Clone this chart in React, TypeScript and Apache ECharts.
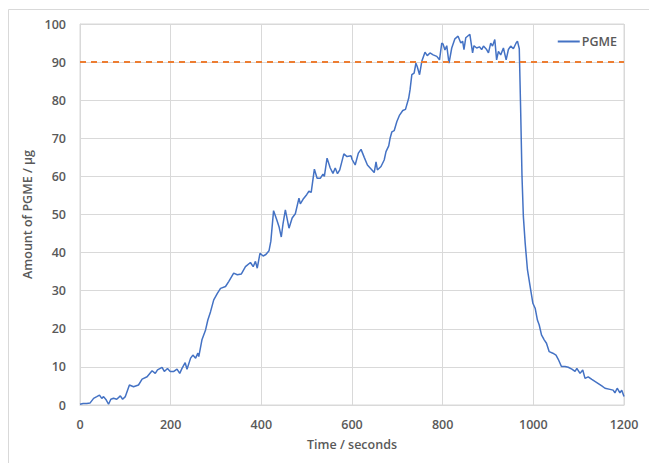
import React, { useEffect, useRef } from "react";
import * as echarts from "echarts";

const times = [0,7,15,22,30,37,43,48,52,58,63,68,74,81,89,94,100,109,118,129,137,148,159,166,171,181,186,193,199,207,214,220,225,232,236,244,249,255,260,262,269,277,282,288,295,303,310,321,328,339,347,356,365,376,382,387,391,397,404,410,417,421,427,434,439,444,448,453,461,468,475,483,486,492,500,505,510,517,523,530,536,539,545,552,558,563,568,573,582,589,598,600,607,614,620,627,634,644,649,653,656,664,671,675,681,684,688,693,699,705,712,718,725,728,732,737,741,744,749,754,761,766,772,779,787,793,798,801,805,809,814,820,827,834,840,844,847,851,860,866,869,875,881,886,890,897,901,906,910,915,919,923,928,934,940,945,950,956,962,965,969,972,975,978,982,987,993,999,1004,1009,1013,1018,1024,1029,1035,1043,1050,1055,1062,1070,1077,1085,1092,1096,1103,1109,1114,1121,1129,1140,1151,1158,1169,1176,1180,1185,1191,1195,1200];
const pgme = [0.2,0.4,0.4,0.5,1.75,2.2,2.6,1.75,2.2,1.3,0.2,1.5,1.75,1.5,2.4,1.5,2.2,5.25,4.8,5.25,6.8,7.4,9.0,8.3,9.2,9.9,8.8,9.6,8.8,8.8,9.4,8.3,9.6,11.1,9.4,12.3,13.1,12.3,13.6,12.7,17.1,19.7,22.3,24.5,27.6,29.3,30.6,31.1,32.4,34.6,34.2,34.4,36.3,37.4,36.3,37.7,35.9,39.8,39.1,39.5,40.5,43,51,48.6,46.8,44.1,47.7,51.2,46.4,49.1,50.2,54.3,52.8,54,55.2,56.1,55.8,61.9,59.5,59.5,60.6,60,64.8,62.2,60.8,62.2,60.7,61.7,65.9,65.2,65.4,64.5,63,66.1,67.1,65,63,61.7,61,63.8,61.7,62.6,64.3,66.5,68,70,71.7,72,74.4,76.1,77.3,77.6,80.5,82.7,86.7,87.1,89.7,88.8,86.7,90.2,92.6,91.7,92.4,91.9,91.5,90.6,95,94.7,93.2,94.3,89.7,93.7,96.1,96.8,95,95.5,93.3,96.4,97.3,92.4,94.3,93.7,94,93.3,94.2,93.3,92.4,95,94.2,95.9,90.6,92.8,91.9,93.7,90.6,93.3,94.2,93.5,95,95.5,93.5,77.6,60,49.5,42.5,35.5,31.1,26.7,25.4,22.3,21,18.4,17.1,16.2,14,13.6,13.1,12,10.1,10.1,9.9,9.4,8.8,9.6,8.3,9.2,7,7.4,6.7,5.9,5,4.4,4.1,3.9,3.2,4.4,3.2,3.9,2.2];
const targetLevel = 90;
const seriesName = "PGME";
const xTitle = "Time / seconds";
const yTitle = "Amount of PGME / µg";

export default function App() {
  const ref = useRef<HTMLDivElement>(null);
  useEffect(() => {
    if (!ref.current) return;
    const chart = echarts.init(ref.current, null, { renderer: "svg" });
    const font = "'Open Sans', sans-serif";
    const labelColor = "#595959";
    const gridColor = "#d9d9d9";
    chart.setOption({
      animation: false,
      backgroundColor: "#ffffff",
      graphic: [
        {
          type: "rect",
          shape: { x: 8.5, y: 9.5, width: 700, height: 500 },
          style: { fill: "none", stroke: gridColor, lineWidth: 1 },
          silent: true,
        },
      ],
      grid: {
        left: 80,
        right: 25,
        top: 24,
        bottom: 58,
        show: true,
        borderColor: gridColor,
        borderWidth: 1,
      },
      legend: {
        data: [seriesName],
        right: 27,
        top: 30,
        icon: "rect",
        itemWidth: 22,
        itemHeight: 2,
        itemGap: 4,
        textStyle: { color: labelColor, fontFamily: font, fontSize: 12.5, fontWeight: 600, padding: [0, 0, 0, -3] },
      },
      xAxis: {
        type: "value",
        min: 0,
        max: 1200,
        interval: 200,
        name: xTitle,
        nameLocation: "middle",
        nameGap: 33,
        nameTextStyle: { color: labelColor, fontFamily: font, fontSize: 12.5, fontWeight: 600 },
        axisLine: { show: true, lineStyle: { color: gridColor } },
        axisTick: { show: false },
        axisLabel: {
          color: labelColor,
          fontFamily: font,
          fontSize: 12.5,
          fontWeight: 600,
          margin: 13,
          formatter: (v: number) => String(v),
        },
        splitLine: { show: true, lineStyle: { color: gridColor, width: 1 } },
      },
      yAxis: {
        type: "value",
        min: 0,
        max: 100,
        interval: 10,
        name: yTitle,
        nameLocation: "middle",
        nameGap: 41,
        nameTextStyle: { color: labelColor, fontFamily: font, fontSize: 12.5, fontWeight: 600 },
        axisLine: { show: true, lineStyle: { color: gridColor } },
        axisTick: { show: false },
        axisLabel: { color: labelColor, fontFamily: font, fontSize: 12.5, fontWeight: 600, margin: 14 },
        splitLine: { show: true, lineStyle: { color: gridColor, width: 1 } },
      },
      series: [
        {
          name: seriesName,
          type: "line",
          data: times.map((t, i) => [t, pgme[i]]),
          symbol: "none",
          lineStyle: { color: "#4472C4", width: 1.5 },
          itemStyle: { color: "#4472C4" },
          markLine: {
            silent: true,
            symbol: "none",
            label: { show: false },
            lineStyle: { color: "#ED7D31", type: [6, 5], width: 2 },
            data: [{ yAxis: targetLevel }],
          },
        },
      ],
    });
    return () => chart.dispose();
  }, []);
  return (
    <div
      ref={ref}
      style={{ position: "fixed", left: 0, top: 0, width: 649, height: 463, background: "#fff" }}
    />
  );
}
